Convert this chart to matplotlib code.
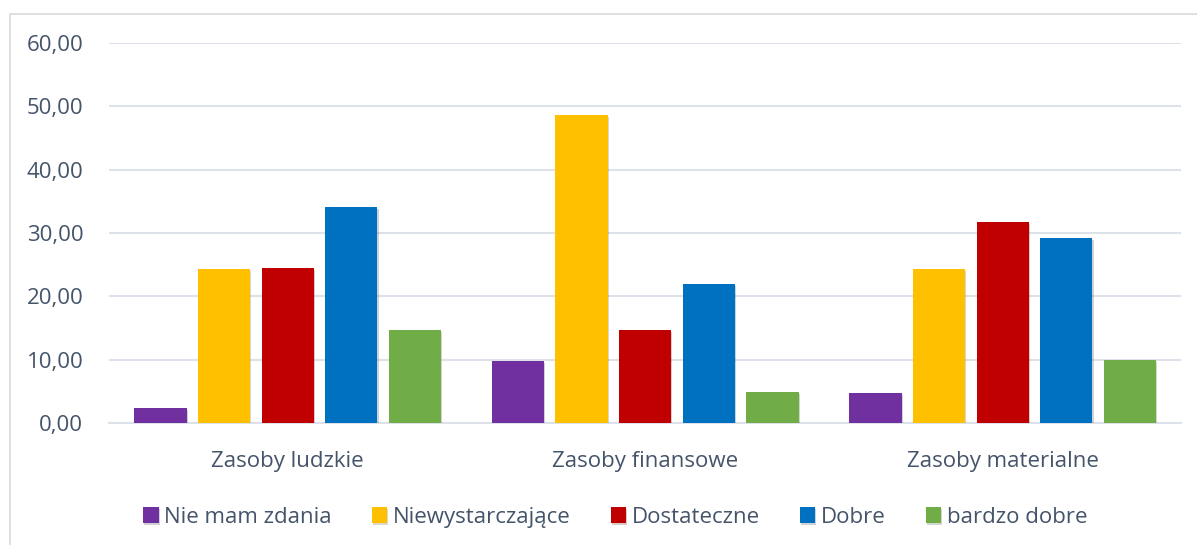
import matplotlib.pyplot as plt
import matplotlib.patches as mpatches
import matplotlib.patheffects as pe
import numpy as np

plt.rcParams['font.family'] = ['Open Sans', 'DejaVu Sans']

kategorie = ['Zasoby ludzkie', 'Zasoby finansowe', 'Zasoby materialne']
serie = ['Nie mam zdania', 'Niewystarczające', 'Dostateczne', 'Dobre', 'bardzo dobre']
nie_mam_zdania = [2.4, 9.8, 4.7]
niewystarczajace = [24.3, 48.7, 24.3]
dostateczne = [24.5, 14.7, 31.8]
dobre = [34.1, 21.9, 29.2]
bardzo_dobre = [14.7, 4.9, 9.9]
kolory = ['#7030A0', '#FFC000', '#C00000', '#0070C0', '#70AD47']

wartosci = [nie_mam_zdania, niewystarczajace, dostateczne, dobre, bardzo_dobre]
tekst = '#44546A'

fig = plt.figure(figsize=(11.97, 5.45), dpi=100)
ax = fig.add_axes([0.091, 0.224, 0.896, 0.697])

# ramka wykresu
fig.patches.append(mpatches.Rectangle((10 / 1197, -0.1), 1.2, 1 - 14 / 545 + 0.1,
                                      transform=fig.transFigure, fill=False,
                                      edgecolor='#D9D9D9', linewidth=1.2))

x = np.arange(len(kategorie))
krok = 0.178
szer = 0.146
for i, (nazwa, vals, kol) in enumerate(zip(serie, wartosci, kolory)):
    ax.bar(x + (i - 2) * krok, vals, width=szer, color=kol, label=nazwa, zorder=3,
           path_effects=[pe.SimplePatchShadow(offset=(0.8, -1.5), alpha=0.2), pe.Normal()])

ax.set_xlim(-0.5, 2.5)
ax.set_ylim(0, 60)
ax.set_yticks(np.arange(0, 61, 10))
ax.set_yticklabels([f'{v:.2f}'.replace('.', ',') for v in np.arange(0, 61, 10)],
                   fontsize=16, color=tekst)
ax.set_xticks(x)
ax.set_xticklabels(kategorie, fontsize=16, color=tekst)
ax.tick_params(axis='both', length=0)
ax.tick_params(axis='y', pad=18.5)
ax.tick_params(axis='x', pad=20)
ax.grid(axis='y', color='#DDE2EA', linewidth=1.5, zorder=0)
for s in ['top', 'right', 'left']:
    ax.spines[s].set_visible(False)
ax.spines['bottom'].set_color('#DDE2EA')
ax.spines['bottom'].set_linewidth(1.5)

ax.legend(loc='upper center', bbox_to_anchor=(0.472, -0.168), ncol=5, frameon=False,
          fontsize=16, labelcolor=tekst, handlelength=0.7, handleheight=0.7,
          handletextpad=0.25, columnspacing=1.8)

fig.savefig('out.png', dpi=100)
